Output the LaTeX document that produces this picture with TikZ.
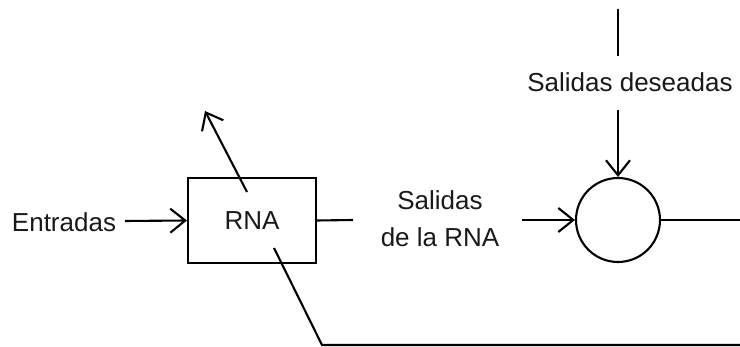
\documentclass[tikz,border=0pt]{standalone}
\usepackage{fontspec}
\setmainfont{Liberation Sans}
\usetikzlibrary{arrows.meta}
\begin{document}
\begin{tikzpicture}[x=1pt,y=-1pt,
  line width=2.1pt,
  lbl/.style={inner sep=0pt, font=\fontsize{26}{37}\selectfont, text=black!90},
  arr/.style={-{Straight Barb[length=15pt,width=24pt,line width=2.1pt]}},
  blockbox/.style={draw, rectangle, minimum width=128pt, minimum height=85pt, inner sep=0pt},
  sumnode/.style={draw, circle, minimum size=84pt, inner sep=0pt}]
\useasboundingbox (0,0) rectangle (740,347);

% blocks
\node[blockbox, lbl, draw=black, line width=2.1pt] (rna) at (252,220.5) {RNA};
\node[sumnode] (sum) at (618,220) {};

% labels
\node[lbl] (ent) at (64,222) {Entradas};
\node[lbl, align=center] (sal) at (440,219) {Salidas\\de la RNA};
\node[lbl] (des) at (630,82) {Salidas deseadas};

% connector ends
\coordinate (entR) at (125,221);
\coordinate (rnaOut) at (353,220);
\coordinate (salR) at (522,220);
\coordinate (sumOut) at (740,220);
\coordinate (dTop) at (618,9);
\coordinate (dMid) at (618,56);
\coordinate (dLow) at (618,110);
\coordinate (upFrom) at (247,192);
\coordinate (upTo) at (205,111);
\coordinate (fbFrom) at (274,248);
\coordinate (fbCorner) at (322,345);
\coordinate (fbEnd) at (740,345);

% connectors
\draw[arr] (entR) -- (rna.west);
\draw (rna.east) -- (rnaOut);
\draw[arr] (salR) -- (sum.west);
\draw (sum.east) -- (sumOut);
\draw (dTop) -- (dMid);
\draw[arr] (dLow) -- (sum.north);
\draw[arr] (upFrom) -- (upTo);
\draw (fbFrom) -- (fbCorner) -- (fbEnd);
\end{tikzpicture}
\end{document}
